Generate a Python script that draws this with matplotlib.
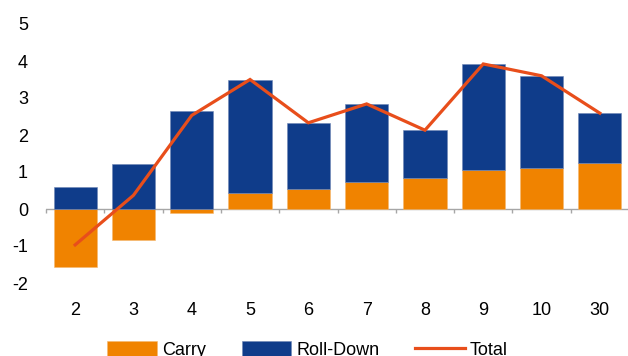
import matplotlib
matplotlib.use("Agg")
import matplotlib.pyplot as plt
import numpy as np

plt.rcParams['font.family'] = ['Liberation Sans', 'DejaVu Sans']

categories = ["2", "3", "4", "5", "6", "7", "8", "9", "10", "30"]
carry = [-1.56, -0.84, -0.12, 0.43, 0.54, 0.74, 0.85, 1.05, 1.10, 1.25]
roll_down = [0.59, 1.21, 2.65, 3.07, 1.79, 2.10, 1.28, 2.87, 2.50, 1.34]
total = [c + r for c, r in zip(carry, roll_down)]
y_ticks = [-2, -1, 0, 1, 2, 3, 4, 5]

c_carry = "#F08300"
c_roll = "#0F3C8A"
c_total = "#E84E1B"

fig = plt.figure(figsize=(6.28, 3.56), dpi=100)
ax = fig.add_axes([46 / 628, (356 - 283) / 356, 583 / 628, (283 - 24) / 356])

x = np.arange(len(categories))
carry_a = np.array(carry)
roll_a = np.array(roll_down)

# Excel-style stacking: negatives stack below zero, positives above
carry_pos = np.clip(carry_a, 0, None)
h_carry = ax.bar(x, carry_a, width=0.74, color=c_carry, label="Carry", zorder=2,
                 edgecolor="#f5b870", linewidth=0.4)
h_roll = ax.bar(x, roll_a, bottom=carry_pos, width=0.74, color=c_roll,
                label="Roll-Down", zorder=2, edgecolor="#6f86b5", linewidth=0.4)
h_total, = ax.plot(x, total, color=c_total, linewidth=2.3, label="Total", zorder=3,
                   solid_joinstyle="miter")

ax.set_xlim(-0.5, len(categories) - 0.5)
ax.set_ylim(y_ticks[0], y_ticks[-1])
ax.set_yticks(y_ticks)
ax.set_yticklabels([str(v) for v in y_ticks])
ax.set_xticks(x)
ax.set_xticklabels(categories)

for s in ax.spines.values():
    s.set_visible(False)
ax.tick_params(axis='both', length=0, labelsize=13, colors="#000000")
ax.tick_params(axis='x', pad=14)
ax.tick_params(axis='y', pad=13)

# zero line with category-boundary tick marks
ax.axhline(0, color="#a6a6a6", linewidth=1.0, zorder=1)
bounds = np.arange(len(categories) + 1) - 0.5
ax.vlines(bounds, -0.11, 0, color="#a6a6a6", linewidth=1.0, zorder=1, clip_on=False)

fig.legend(handles=[h_carry, h_roll, h_total], labels=["Carry", "Roll-Down", "Total"],
           loc="upper center", bbox_to_anchor=(0.49, 0.042), ncol=3,
           frameon=False, fontsize=13, handlelength=2.75, handleheight=1.0,
           handletextpad=0.3, columnspacing=1.95, borderaxespad=0, borderpad=0)

fig.savefig("out.png", dpi=100)
